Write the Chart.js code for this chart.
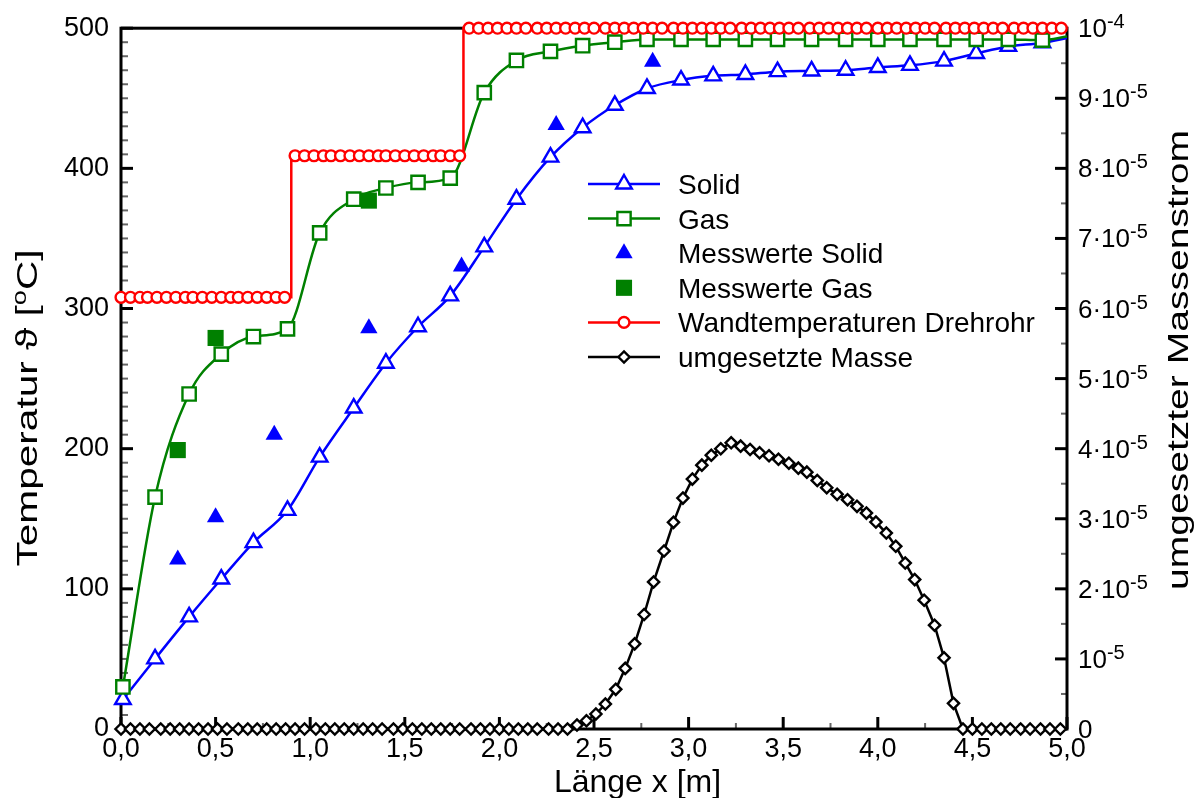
<!DOCTYPE html>
<html lang="de">
<head>
<meta charset="utf-8">
<title>Temperaturverlauf im Drehrohr</title>
<script src="https://cdn.jsdelivr.net/npm/chart.js@4.4.1/dist/chart.umd.min.js"></script>
<style>
  html, body { margin: 0; padding: 0; background: #fff; }
  #wrap { width: 1200px; height: 798px; }
</style>
</head>
<body>
<div id="wrap"><canvas id="c" width="1200" height="798"></canvas></div>
<script>
// ---- model output (marker positions along the kiln, metres) ----
const modelX = [0.01, 0.18, 0.36, 0.53, 0.70, 0.88, 1.05, 1.23, 1.40, 1.57, 1.74, 1.92, 2.09, 2.27,
                2.44, 2.61, 2.78, 2.96, 3.13, 3.30, 3.47, 3.65, 3.83, 4.00, 4.17, 4.35, 4.52, 4.69,
                4.87, 5.00];
const solidT = [21, 50, 80, 107, 133, 156, 194, 229, 261, 287, 309, 344, 378, 408,
                429, 445, 457, 463, 466, 467, 469, 469.5, 470, 472, 473.5, 476.5, 482, 487,
                489.5, 493];
const gasT   = [30, 165.5, 239, 267.5, 280, 285.5, 354, 378, 386, 390, 393, 454, 477, 483.5,
                487.5, 490, 492, 492, 492, 492, 492, 492, 492, 492, 492, 492, 492, 492,
                491.5, 494];

// ---- measurements ----
const measSolidX = [0.30, 0.50, 0.81, 1.31, 1.80, 2.30, 2.81];
const measSolidT = [121, 151, 210, 286, 330, 431, 476];
const measGasX   = [0.30, 0.50, 1.31];
const measGasT   = [199, 279, 377];

// ---- wall temperature of the rotary kiln (three heating zones) ----
const wallStepX = [0, 0.90, 0.90, 1.81, 1.81, 5.00];
const wallStepT = [308, 308, 409, 409, 500, 500];
const wallZoneT = [308, 409, 500];
const wallZone1X = [0, 0.05, 0.10, 0.14, 0.19, 0.24, 0.29, 0.34, 0.38, 0.43, 0.48, 0.53, 0.58,
                    0.62, 0.67, 0.72, 0.77, 0.82, 0.865];
const wallZone2X = [0.92, 0.97, 1.02, 1.07, 1.11, 1.16, 1.21, 1.26, 1.31, 1.36, 1.40, 1.45, 1.50,
                    1.55, 1.60, 1.65, 1.69, 1.74, 1.79];
const wallZone3X = [1.84, 1.89, 1.94, 1.99, 2.04, 2.09, 2.14, 2.20, 2.25, 2.30, 2.35, 2.40, 2.45,
                    2.50, 2.56, 2.61, 2.66, 2.71, 2.76, 2.81, 2.86, 2.92, 2.97, 3.02, 3.07, 3.12,
                    3.17, 3.22, 3.28, 3.33, 3.38, 3.43, 3.48, 3.53, 3.58, 3.64, 3.69, 3.74, 3.79,
                    3.84, 3.89, 3.94, 4.00, 4.05, 4.10, 4.15, 4.20, 4.25, 4.30, 4.36, 4.41, 4.46,
                    4.51, 4.56, 4.61, 4.66, 4.72, 4.77, 4.82, 4.87, 4.92, 4.97];

// ---- converted mass flow (right axis) ----
const massX = [0, 0.05, 0.10, 0.15, 0.21, 0.26, 0.31, 0.36, 0.41, 0.46, 0.51, 0.56, 0.62, 0.67,
               0.72, 0.77, 0.82, 0.87, 0.92, 0.97, 1.03, 1.08, 1.13, 1.18, 1.23, 1.28, 1.33, 1.38,
               1.44, 1.49, 1.54, 1.59, 1.64, 1.69, 1.74, 1.79, 1.85, 1.90, 1.95, 2.00, 2.05, 2.10,
               2.15, 2.20, 2.26, 2.31, 2.36,
               2.41, 2.46, 2.51, 2.56, 2.615, 2.665, 2.715, 2.765, 2.815, 2.87, 2.92, 2.97, 3.02,
               3.07, 3.12, 3.17, 3.225, 3.275, 3.325, 3.375, 3.425, 3.475, 3.53, 3.58, 3.625, 3.68,
               3.73, 3.785, 3.84, 3.89, 3.94, 3.99, 4.045, 4.095, 4.145, 4.195, 4.245, 4.30, 4.35,
               4.40,
               4.45, 4.50, 4.55, 4.60, 4.65, 4.70, 4.755, 4.805, 4.86, 4.91, 4.965];
const massFlow = [0, 0, 0, 0, 0, 0, 0, 0, 0, 0, 0, 0, 0, 0,
                  0, 0, 0, 0, 0, 0, 0, 0, 0, 0, 0, 0, 0, 0,
                  0, 0, 0, 0, 0, 0, 0, 0, 0, 0, 0, 0, 0, 0,
                  0, 0, 0, 0, 0,
                  0.57e-6, 1.18e-6, 2.14e-6, 3.56e-6, 5.66e-6, 8.65e-6, 12.15e-6, 16.34e-6, 20.98e-6,
                  25.40e-6, 29.49e-6, 32.95e-6, 35.66e-6, 37.65e-6, 39.07e-6, 39.99e-6, 40.84e-6,
                  40.36e-6, 39.89e-6, 39.42e-6, 38.99e-6, 38.50e-6, 37.93e-6, 37.22e-6, 36.65e-6,
                  35.47e-6, 34.43e-6, 33.48e-6, 32.72e-6, 31.77e-6, 30.81e-6, 29.53e-6, 27.96e-6,
                  26.07e-6, 23.69e-6, 21.32e-6, 18.38e-6, 14.81e-6, 10.16e-6, 3.66e-6,
                  0, 0, 0, 0, 0, 0, 0, 0, 0, 0, 0];

// ---- tick labels ----
const massTickValues = [0, 1e-5, 2e-5, 3e-5, 4e-5, 5e-5, 6e-5, 7e-5, 8e-5, 9e-5, 1e-4];
const massTickLabels = [['0', ''], ['10', '-5'], ['2\u00B710', '-5'], ['3\u00B710', '-5'],
                        ['4\u00B710', '-5'], ['5\u00B710', '-5'], ['6\u00B710', '-5'],
                        ['7\u00B710', '-5'], ['8\u00B710', '-5'], ['9\u00B710', '-5'], ['10', '-4']];

const legendLabels = ['Solid', 'Gas', 'Messwerte Solid', 'Messwerte Gas',
                      'Wandtemperaturen Drehrohr', 'umgesetzte Masse'];

const FONT = "'Liberation Sans', Arial, Helvetica, sans-serif";
const BLUE = '#0000ff', GREEN = '#008000', RED = '#ff0000', BLACK = '#000000';
const LW = 2.5;   // line width of the curves
const MW = 2.4;   // outline width of the hollow markers

const pts = (xs, ys) => xs.map((x, i) => ({ x, y: ys[i] }));
const wallMarks = [wallZone1X, wallZone2X, wallZone3X]
  .flatMap((xs, z) => xs.map(x => ({ x, y: wallZoneT[z] })));

// legend styles, same order as legendLabels
const legendStyle = [
  { line: BLUE,  shape: 'triangle', r: 9,    fill: '#fff', stroke: BLUE },
  { line: GREEN, shape: 'rect',     r: 9.4,  fill: '#fff', stroke: GREEN },
  { line: null,  shape: 'triangle', r: 10,   fill: BLUE,   stroke: null },
  { line: null,  shape: 'rect',     r: 11.4, fill: GREEN,  stroke: null },
  { line: RED,   shape: 'circle',   r: 5.4,  fill: '#fff', stroke: RED },
  { line: BLACK, shape: 'rectRot',  r: 5.6,  fill: '#fff', stroke: BLACK }
];

function markerPath(ctx, shape, x, y, r) {
  ctx.beginPath();
  if (shape === 'circle') {
    ctx.arc(x, y, r, 0, Math.PI * 2);
  } else if (shape === 'triangle') {
    let a = 0;
    ctx.moveTo(x + Math.sin(a) * r, y - Math.cos(a) * r);
    a += 2 * Math.PI / 3;
    ctx.lineTo(x + Math.sin(a) * r, y - Math.cos(a) * r);
    a += 2 * Math.PI / 3;
    ctx.lineTo(x + Math.sin(a) * r, y - Math.cos(a) * r);
    ctx.closePath();
  } else if (shape === 'rect') {
    const s = Math.SQRT1_2 * r;
    ctx.rect(x - s, y - s, 2 * s, 2 * s);
  } else if (shape === 'rectRot') {
    ctx.moveTo(x - r, y); ctx.lineTo(x, y - r); ctx.lineTo(x + r, y); ctx.lineTo(x, y + r);
    ctx.closePath();
  }
}

// frame and inward tick marks, drawn underneath the data
const axisFrame = {
  id: 'axisFrame',
  beforeDatasetsDraw(chart) {
    const { ctx, chartArea: a, scales } = chart;
    const line = (x1, y1, x2, y2, w, c) => {
      ctx.strokeStyle = c; ctx.lineWidth = w;
      ctx.beginPath(); ctx.moveTo(x1, y1); ctx.lineTo(x2, y2); ctx.stroke();
    };
    ctx.save();
    ctx.lineCap = 'butt';
    for (let k = 0; k <= 50; k++) {
      const py = scales.y.getPixelForValue(k * 10);
      const major = k % 10 === 0;
      line(a.left, py, a.left + (major ? 12 : 7), py, major ? 3 : 2, major ? '#000' : '#666');
    }
    for (let k = 0; k <= 20; k++) {
      const px = scales.x.getPixelForValue(k * 0.25);
      const major = k % 2 === 0;
      line(px, a.bottom, px, a.bottom - (major ? 12 : 6), major ? 3 : 2, major ? '#000' : '#666');
    }
    for (let k = 0; k <= 20; k++) {
      const py = scales.y2.getPixelForValue(k * 0.5e-5);
      const major = k % 2 === 0;
      line(a.right, py, a.right - (major ? 12 : 6), py, major ? 3 : 2, major ? '#000' : '#666');
    }
    ctx.strokeStyle = '#000'; ctx.lineWidth = 3;
    ctx.strokeRect(a.left, a.top, a.right - a.left, a.bottom - a.top);
    ctx.restore();
  }
};

// a title running bottom-to-top, stretched along its length
function verticalTitle(ctx, parts, baseX, centerY, length) {
  ctx.save();
  let w = 0;
  parts.forEach(p => { ctx.font = p.size + 'px ' + FONT; p.w = ctx.measureText(p.t).width; w += p.w; });
  ctx.translate(baseX, centerY);
  ctx.rotate(-Math.PI / 2);
  ctx.scale(length / w, 1);
  ctx.fillStyle = '#000';
  ctx.textBaseline = 'alphabetic';
  ctx.textAlign = 'left';
  let x = -w / 2;
  parts.forEach(p => {
    ctx.font = p.size + 'px ' + FONT;
    ctx.fillText(p.t, x, -(p.rise || 0));
    x += p.w;
  });
  ctx.restore();
}

const annotations = {
  id: 'annotations',
  afterDatasetsDraw(chart) {
    const { ctx } = chart;
    ctx.save();
    // legend
    const lx0 = 588, lx1 = 660, lmx = 624, tx = 678, ly0 = 184, dy = 34.6;
    legendLabels.forEach((label, i) => {
      const s = legendStyle[i];
      const yy = ly0 + i * dy;
      if (s.line) {
        ctx.strokeStyle = s.line; ctx.lineWidth = LW;
        ctx.beginPath(); ctx.moveTo(lx0, yy); ctx.lineTo(lx1, yy); ctx.stroke();
      }
      markerPath(ctx, s.shape, lmx, yy, s.r);
      ctx.fillStyle = s.fill; ctx.fill();
      if (s.stroke) { ctx.strokeStyle = s.stroke; ctx.lineWidth = MW; ctx.stroke(); }
      ctx.fillStyle = '#000';
      ctx.font = '28px ' + FONT;
      ctx.textAlign = 'left'; ctx.textBaseline = 'alphabetic';
      ctx.fillText(label, tx, yy + 10);
    });
    ctx.restore();
  },
  afterDraw(chart) {
    const { ctx, scales } = chart;
    ctx.save();
    ctx.fillStyle = '#000';
    ctx.textAlign = 'left'; ctx.textBaseline = 'alphabetic';
    // right axis labels with powers of ten
    massTickValues.forEach((v, i) => {
      const py = scales.y2.getPixelForValue(v);
      const [main, sup] = massTickLabels[i];
      const base = py + 9;
      ctx.font = '26px ' + FONT;
      ctx.fillText(main, 1078, base);
      if (sup) {
        const w = ctx.measureText(main).width;
        ctx.font = '20px ' + FONT;
        ctx.fillText(sup, 1078 + w, base - 9);
      }
    });
    // axis titles
    ctx.font = '32px ' + FONT;
    ctx.textAlign = 'center';
    ctx.fillText('L\u00E4nge x [m]', 637.5, 792);
    verticalTitle(ctx, [{ t: 'Temperatur \u03D1 [', size: 30 }, { t: 'o', size: 20, rise: 11 },
                        { t: 'C]', size: 30 }], 36.5, 408, 317);
    verticalTitle(ctx, [{ t: 'umgesetzter Massenstrom', size: 30 }], 1188, 360, 460);
    ctx.restore();
  }
};

Chart.defaults.font.family = FONT;
Chart.defaults.color = '#000';

new Chart(document.getElementById('c'), {
  type: 'line',
  data: {
    datasets: [
      {
        label: legendLabels[0], data: pts(modelX, solidT), yAxisID: 'y', order: 6,
        borderColor: BLUE, borderWidth: LW, cubicInterpolationMode: 'monotone',
        pointStyle: 'triangle', pointBackgroundColor: '#fff', pointBorderColor: BLUE,
        pointBorderWidth: MW, pointRadius: c => (modelX[c.dataIndex] >= 5 ? 0 : 9), clip: false
      },
      {
        label: legendLabels[1], data: pts(modelX, gasT), yAxisID: 'y', order: 5,
        borderColor: GREEN, borderWidth: LW, cubicInterpolationMode: 'monotone',
        pointStyle: 'rect', pointBackgroundColor: '#fff', pointBorderColor: GREEN,
        pointBorderWidth: MW, pointRadius: c => (modelX[c.dataIndex] >= 5 ? 0 : 9.4), clip: false
      },
      {
        label: legendLabels[2], data: pts(measSolidX, measSolidT), yAxisID: 'y', order: 4,
        showLine: false, pointStyle: 'triangle', pointBackgroundColor: BLUE,
        pointBorderColor: BLUE, pointBorderWidth: 0, pointRadius: 10, clip: false
      },
      {
        label: legendLabels[3], data: pts(measGasX, measGasT), yAxisID: 'y', order: 3,
        showLine: false, pointStyle: 'rect', pointBackgroundColor: GREEN,
        pointBorderColor: GREEN, pointBorderWidth: 0, pointRadius: 11.4, clip: false
      },
      {
        label: legendLabels[4], data: pts(wallStepX, wallStepT), yAxisID: 'y', order: 2,
        borderColor: RED, borderWidth: LW, pointRadius: 0, clip: false
      },
      {
        label: legendLabels[4], data: wallMarks, yAxisID: 'y', order: 1.5,
        showLine: false, pointStyle: 'circle', pointBackgroundColor: '#fff',
        pointBorderColor: RED, pointBorderWidth: MW, pointRadius: 5.4, clip: false
      },
      {
        label: legendLabels[5], data: pts(massX, massFlow), yAxisID: 'y2', order: 1,
        borderColor: BLACK, borderWidth: LW,
        pointStyle: 'rectRot', pointBackgroundColor: '#fff', pointBorderColor: BLACK,
        pointBorderWidth: MW, pointRadius: 5.6, clip: false
      }
    ]
  },
  options: {
    responsive: false,
    animation: false,
    events: [],
    layout: { padding: { top: 26, left: 0, right: 0, bottom: 0 } },
    plugins: { legend: { display: false }, tooltip: { enabled: false } },
    scales: {
      x: {
        type: 'linear', position: 'bottom', min: 0, max: 5,
        grid: { display: false, drawTicks: false }, border: { display: false },
        ticks: {
          stepSize: 0.5, autoSkip: false, maxRotation: 0, padding: 4,
          font: { size: 27 }, color: '#000',
          callback: v => v.toFixed(1).replace('.', ',')
        },
        afterFit: s => { s.height = 69; }
      },
      y: {
        type: 'linear', position: 'left', min: 0, max: 500,
        grid: { display: false, drawTicks: false }, border: { display: false },
        ticks: { stepSize: 100, padding: 12, font: { size: 27 }, color: '#000' },
        afterFit: s => { s.width = 121; }
      },
      y2: {
        type: 'linear', position: 'right', min: 0, max: 1e-4,
        grid: { display: false, drawTicks: false }, border: { display: false },
        ticks: { display: false },
        afterFit: s => { s.width = 133; }
      }
    }
  },
  plugins: [axisFrame, annotations]
});
</script>
</body>
</html>
